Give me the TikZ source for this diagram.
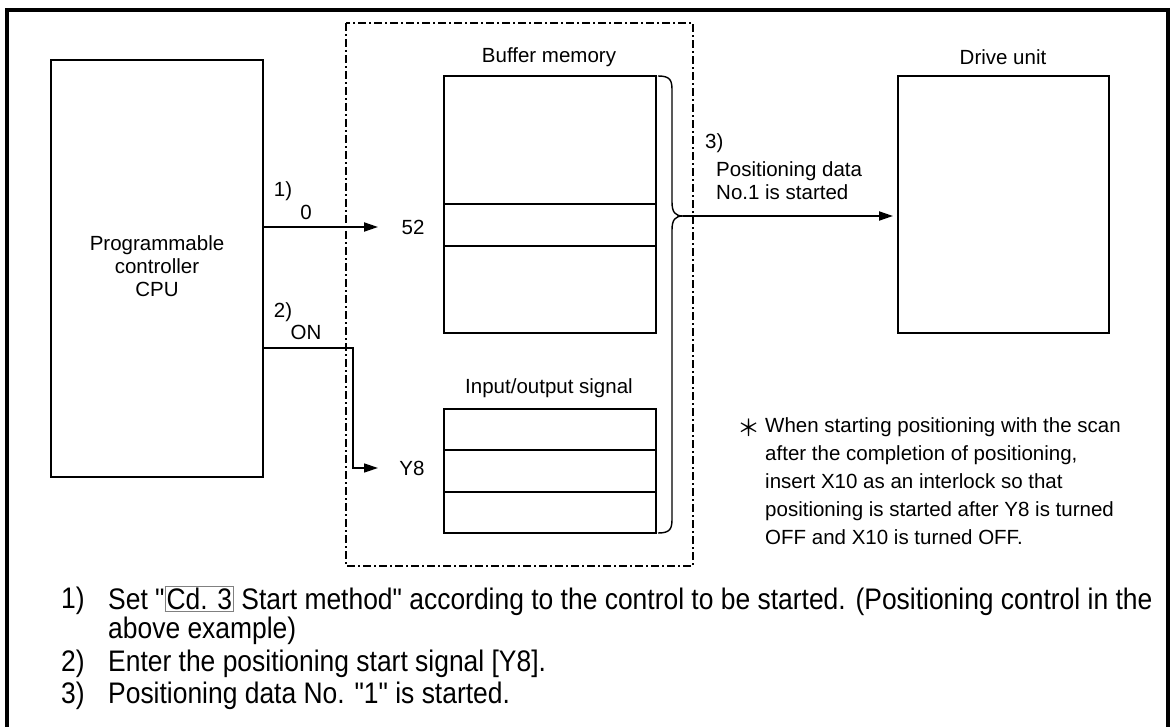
\documentclass[tikz,border=0pt]{standalone}
\usepackage{fontspec}
\setmainfont{Liberation Sans}
\newfontfamily\cjk{Noto Sans CJK JP}
\newfontfamily\bfont[FakeStretch=0.89]{Liberation Sans}
\usetikzlibrary{arrows.meta}
\newcommand\cdbox[1]{{\setlength\fboxsep{1pt}\setlength\fboxrule{0.9pt}\fcolorbox{gray}{white}{#1}}}
\begin{document}
\begin{tikzpicture}[x=1pt,y=-1pt,
  box/.style={draw,line width=1.5pt,inner sep=0pt,outer sep=0pt,anchor=north west},
  lbl/.style={font=\fontsize{20.5}{23}\selectfont,inner sep=0pt},
  tipstyle/.style={-{Triangle[length=14pt,width=9pt]}},
  arr/.style={line width=2pt,tipstyle},
  thin/.style={line width=1.4pt},
  sep/.style={line width=2pt},
  dashdot/.style={line width=2pt,dash pattern=on 8pt off 3pt on 2pt off 3pt},
  frame/.style={line width=4pt},
  bottomtxt/.style={font=\bfont\fontsize{29.7}{32}\selectfont,inner sep=0pt,anchor=west}]
% canvas
\path[use as bounding box,fill=white] (0,0) rectangle (1174,727);
% outer frame (open at bottom)
\draw[frame] (7,727) -- (7,10) -- (1168,10) -- (1168,727);
% dash-dot region
\draw[dashdot] (346,23) rectangle (693,566);
% PLC
\node[box,minimum width=212pt,minimum height=417pt] (plc) at (51,60) {};
\node[lbl,align=center] (plctxt) at (157,266) {Programmable\\controller\\CPU};
% buffer memory
\node[box,minimum width=212pt,minimum height=257pt] (buf) at (444,76) {};
\node[lbl] (buflbl) at (549,57) {Buffer memory};
\draw[sep] (buf.west |- 0,204) -- (buf.east |- 0,204);
\draw[sep] (buf.west |- 0,246) -- (buf.east |- 0,246);
% input/output signal
\node[box,minimum width=212pt,minimum height=124pt] (io) at (444,409) {};
\node[lbl] (iolbl) at (549,388) {Input/output signal};
\draw[sep] (io.west |- 0,450) -- (io.east |- 0,450);
\draw[sep] (io.west |- 0,492) -- (io.east |- 0,492);
% drive unit
\node[box,minimum width=211pt,minimum height=257pt] (drv) at (898,76) {};
\node[lbl] (drvlbl) at (1003,57) {Drive unit};
% labels 52 / Y8
\node[lbl] (n52) at (413,227) {52};
\node[lbl] (ny8) at (412,468) {Y8};
% arrow 1
\coordinate (a1e) at (378,227);
\draw[arr] (plc.east |- a1e) -- (a1e);
\node[lbl] (l1) at (283,191) {1)};
\node[lbl] (l0) at (306,212) {0};
% arrow 2
\coordinate (a2s) at (263,348);
\coordinate (a2k) at (353,348);
\coordinate (a2e) at (378,468);
\draw[thin,tipstyle] (plc.east |- a2s) -- (a2k) |- (a2e);
\node[lbl] (l2) at (283,312) {2)};
\node[lbl] (lon) at (306,332) {ON};
% brace
\coordinate (tip) at (683,216);
\draw[thin] (658,76) .. controls (670,76) and (672,80) .. (672,90)
  -- (672,202) .. controls (672,212) and (675,216) .. (tip)
  .. controls (675,216) and (672,220) .. (672,230)
  -- (672,519) .. controls (672,529) and (670,533) .. (658,533);
% arrow 3
\draw[arr,shorten >=5pt] (tip) -- (drv.west |- tip);
\node[lbl,anchor=west] (l3) at (705,143) {3)};
\node[lbl,anchor=north west,align=left] (l3t) at (716,161) {Positioning data\\No.1 is started};
% note
\node[lbl,font=\cjk\fontsize{23}{23}\selectfont] (ast) at (749,428) {＊};
\node[lbl,anchor=north west,align=left,font=\fontsize{20.5}{28}\selectfont] (note) at (765,417)
 {When starting positioning with the scan\\after the completion of positioning,\\insert X10 as an interlock so that\\positioning is started after Y8 is turned\\OFF and X10 is turned OFF.};
% bottom text
\node[bottomtxt] (b1n) at (61,601) {1)};
\node[bottomtxt] (b1) at (108,601) {Set "\cdbox{Cd. 3} Start method" according to the control to be started. (Positioning control in the};
\node[bottomtxt] (b1b) at (108,631) {above example)};
\node[bottomtxt] (b2n) at (61,664) {2)};
\node[bottomtxt] (b2) at (108,664) {Enter the positioning start signal [Y8].};
\node[bottomtxt] (b3n) at (61,696) {3)};
\node[bottomtxt] (b3) at (108,696) {Positioning data No. "1" is started.};
\end{tikzpicture}
\end{document}
